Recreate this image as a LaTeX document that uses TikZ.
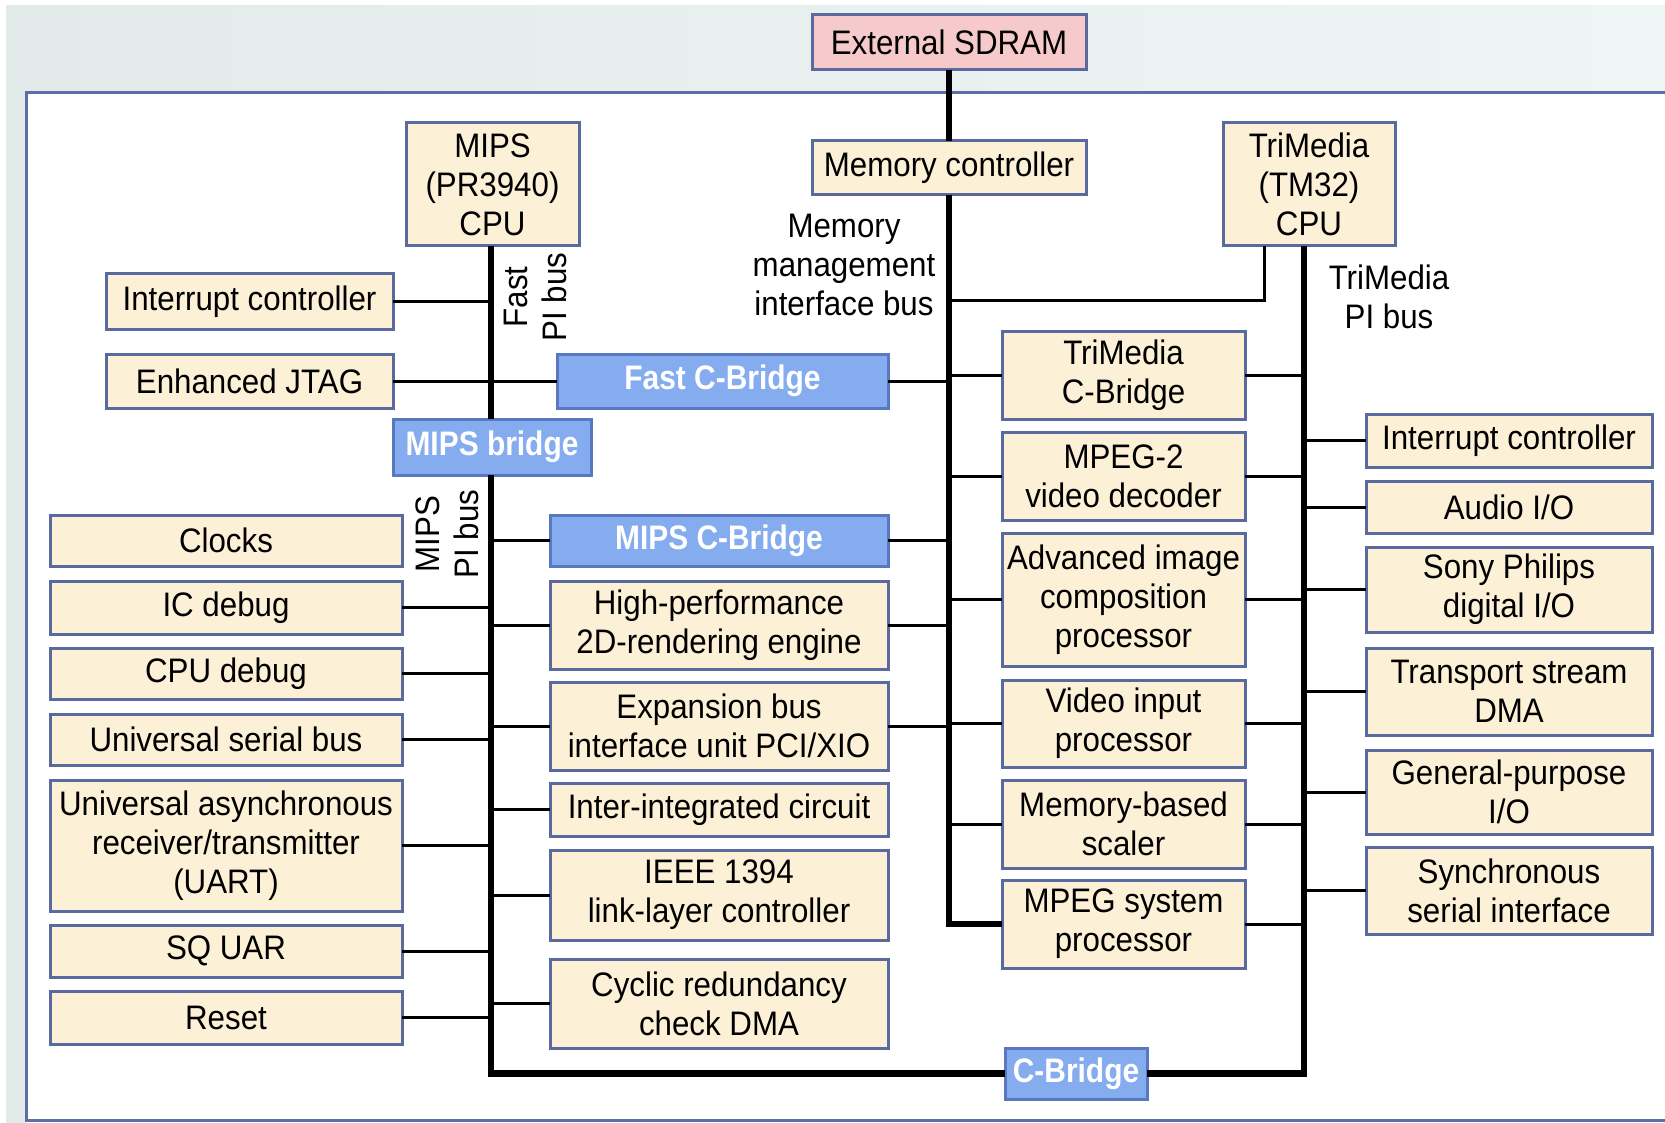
\documentclass[tikz,border=0pt]{standalone}
\usepackage{fontspec}
\setmainfont[FakeStretch=0.92]{Liberation Sans}
\newfontfamily\bridgefont[FakeStretch=0.88]{Liberation Sans}
\definecolor{cream}{HTML}{FCF0D6}
\definecolor{boxborder}{HTML}{5B6A9E}
\definecolor{bridgeblue}{HTML}{86ACF0}
\definecolor{bridgeborder}{HTML}{5A78C0}
\definecolor{pinkfill}{HTML}{F6CACA}
\definecolor{bandA}{HTML}{E2EAEA}
\definecolor{bandB}{HTML}{EEF5F5}
\definecolor{frame}{HTML}{5B6EA5}
\newcommand\boxfont{\fontsize{17}{19.5}\selectfont}
\newcommand\mybox[7]{\node[#2, minimum width={(#5-#3)*0.5pt}, minimum height={(#6-#4)*0.5pt}] (#1) at ({(#3+#5)/2},{(#4+#6)/2}) {#7};}
\tikzset{
  boxst/.style={draw=boxborder, line width=1.5pt, fill=cream, inner sep=0pt, outer sep=0pt, align=center, font=\boxfont, text=black},
  bridgest/.style={boxst, fill=bridgeblue, draw=bridgeborder, text=white, font={\bridgefont\fontsize{17}{19.5}\selectfont\bfseries}},
  sdramst/.style={boxst, fill=pinkfill},
  bus/.style={line width=3.2pt, black, line join=miter},
  conn/.style={line width=1.5pt, black},
  lbl/.style={align=center, font=\boxfont, inner sep=0pt, text=black}
}
\begin{document}
\begin{tikzpicture}[x=0.5pt, y=-0.5pt]
\useasboundingbox (0,0) rectangle (1665,1123);
% background
\fill[white] (0,0) rectangle (1665,1123);
\shade[left color=bandA, right color=bandB] (6,6) rectangle (1665,93);
\fill[bandA] (6,93) rectangle (26,1123);
\fill[white] (26,93) rectangle (1665,1120);
\draw[frame, line width=1.5pt] (1665,93) -- (26,93) -- (26,1120) -- (1665,1120);

% top
\mybox{sdram}{sdramst}{812}{15}{1086}{70}{External SDRAM}
\mybox{memctrl}{boxst}{812}{141}{1086}{195}{Memory controller}
\mybox{mipscpu}{boxst}{406}{123}{579}{246}{MIPS\\(PR3940)\\CPU}
\mybox{tmcpu}{boxst}{1223}{123}{1395}{246}{TriMedia\\(TM32)\\CPU}

% left upper
\mybox{intl}{boxst}{106}{274}{393}{329}{Interrupt controller}
\mybox{jtag}{boxst}{106}{354}{393}{408}{Enhanced JTAG}
\mybox{fastcb}{bridgest}{557}{354}{888}{408}{Fast C-Bridge}
\mybox{mipsbr}{bridgest}{393}{419}{591}{475}{MIPS bridge}
\mybox{mipscb}{bridgest}{550}{515}{888}{566}{MIPS C-Bridge}

% left column
\mybox{clocks}{boxst}{50}{515}{402}{566}{Clocks}
\mybox{icdebug}{boxst}{50}{581}{402}{634}{IC debug}
\mybox{cpudebug}{boxst}{50}{648}{402}{699}{CPU debug}
\mybox{usb}{boxst}{50}{714}{402}{765}{Universal serial bus}
\mybox{uart}{boxst}{50}{780}{402}{911}{Universal asynchronous\\receiver/transmitter\\(UART)}
\mybox{sq}{boxst}{50}{925}{402}{977}{SQ UAR}
\mybox{reset}{boxst}{50}{991}{402}{1044}{Reset}

% middle column
\mybox{hp}{boxst}{550}{581}{888}{669}{High-performance\\2D-rendering engine}
\mybox{exp}{boxst}{550}{682}{888}{770}{Expansion bus\\interface unit PCI/XIO}
\mybox{iic}{boxst}{550}{783}{888}{836}{Inter-integrated circuit}
\mybox{ieee}{boxst}{550}{850}{888}{940}{IEEE 1394\\link-layer controller}
\mybox{crc}{boxst}{550}{959}{888}{1048}{Cyclic redundancy\\check DMA}

% right-middle column
\mybox{tmcb}{boxst}{1002}{331}{1245}{419}{TriMedia\\C-Bridge}
\mybox{mpeg2}{boxst}{1002}{432}{1245}{520}{MPEG-2\\video decoder}
\mybox{aic}{boxst}{1002}{533}{1245}{666}{Advanced image\\composition\\processor}
\mybox{vip}{boxst}{1002}{680}{1245}{767}{Video input\\processor}
\mybox{mbs}{boxst}{1002}{780}{1245}{868}{Memory-based\\scaler}
\mybox{msp}{boxst}{1002}{880}{1245}{968}{MPEG system\\processor}

% right column
\mybox{intr}{boxst}{1366}{414}{1652}{467}{Interrupt controller}
\mybox{audio}{boxst}{1366}{481}{1652}{533}{Audio I/O}
\mybox{sony}{boxst}{1366}{547}{1652}{632}{Sony Philips\\digital I/O}
\mybox{ts}{boxst}{1366}{648}{1652}{735}{Transport stream\\DMA}
\mybox{gp}{boxst}{1366}{750}{1652}{834}{General-purpose\\I/O}
\mybox{sync}{boxst}{1366}{847}{1652}{934}{Synchronous\\serial interface}

\mybox{cbridge}{bridgest}{1005}{1048}{1147}{1099}{C-Bridge}

% bus coordinates
\coordinate (mipsx) at (491,0);
\coordinate (memx) at (949,0);
\coordinate (tmx) at (1304,0);
\coordinate (mmic) at (1264,300.5);

% buses
\draw[bus] (sdram.south) -- (memctrl.north);
\draw[bus] (memctrl.south) -- (memctrl.south |- msp.west) -- (msp.west);
\draw[bus] (mipscpu.south -| mipsx) -- (mipsbr.north -| mipsx);
\draw[bus] (mipsbr.south -| mipsx) -- (mipsx |- cbridge.west) -- (cbridge.west);
\draw[bus] (cbridge.east) -- (tmx |- cbridge.east) -- (tmx |- tmcpu.south);

% memory management interface bus
\draw[conn] (memx |- mmic) -- (mmic) -- (mmic |- tmcpu.south);

% left to MIPS bus
\foreach \n in {intl,icdebug,cpudebug,usb,uart,sq,reset}
  \draw[conn] (\n.east) -- (\n.east -| mipsx);
\draw[conn] (jtag.east) -- (fastcb.west);
\draw[conn] (fastcb.east) -- (fastcb.east -| memx);

% MIPS bus to middle column
\foreach \n in {mipscb,hp,exp,iic,ieee,crc}
  \draw[conn] (\n.west -| mipsx) -- (\n.west);
\foreach \n in {mipscb,hp,exp}
  \draw[conn] (\n.east) -- (\n.east -| memx);

% memory bus to right-middle
\foreach \n in {tmcb,mpeg2,aic,vip,mbs}
  \draw[conn] (memx |- \n.west) -- (\n.west);
\foreach \n in {tmcb,mpeg2,aic,vip,mbs,msp}
  \draw[conn] (\n.east) -- (\n.east -| tmx);

% TriMedia bus to right column
\foreach \n in {intr,audio,sony,ts,gp,sync}
  \draw[conn] (tmx |- \n.west) -- (\n.west);

% labels
\node[lbl, rotate=90] (fastpi) at (535,297) {Fast\\PI bus};
\node[lbl, rotate=90] (mipspi) at (447,534) {MIPS\\PI bus};
\node[lbl] (mmilbl) at (844,265) {Memory\\management\\interface bus};
\node[lbl] (tmpi) at (1389,297) {TriMedia\\PI bus};
\end{tikzpicture}
\end{document}
